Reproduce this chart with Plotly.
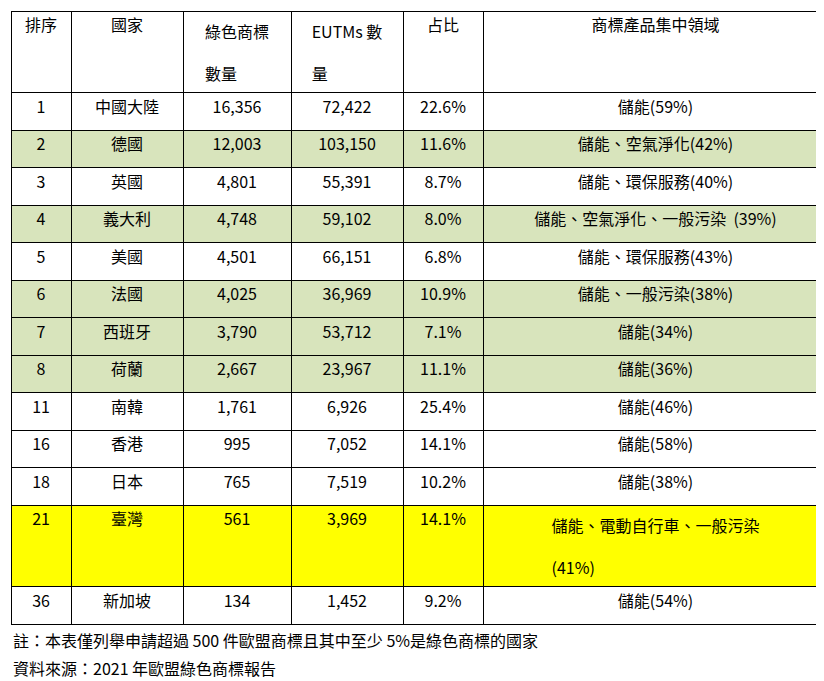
import plotly.graph_objects as go

headers = ["排序", "國家", "綠色商標<br><br>數量", "EUTMs 數<br><br>量", "占比", "商標產品集中領域"]
rank = ["1", "2", "3", "4", "5", "6", "7", "8", "11", "16", "18", "21", "36"]
country = ["中國大陸", "德國", "英國", "義大利", "美國", "法國", "西班牙", "荷蘭",
           "南韓", "香港", "日本", "臺灣", "新加坡"]
green_tm = ["16,356", "12,003", "4,801", "4,748", "4,501", "4,025", "3,790", "2,667",
            "1,761", "995", "765", "561", "134"]
eutms = ["72,422", "103,150", "55,391", "59,102", "66,151", "36,969", "53,712", "23,967",
         "6,926", "7,052", "7,519", "3,969", "1,452"]
share = ["22.6%", "11.6%", "8.7%", "8.0%", "6.8%", "10.9%", "7.1%", "11.1%",
         "25.4%", "14.1%", "10.2%", "14.1%", "9.2%"]
field = ["儲能(59%)", "儲能、空氣淨化(42%)", "儲能、環保服務(40%)",
         "儲能、空氣淨化、一般污染  (39%)", "儲能、環保服務(43%)", "儲能、一般污染(38%)",
         "儲能(34%)", "儲能(36%)", "儲能(46%)", "儲能(58%)", "儲能(38%)",
         "儲能、電動自行車、一般污染<br><br>(41%)", "儲能(54%)"]
highlight = ["none", "green", "none", "green", "none", "green", "green", "green",
             "none", "none", "none", "yellow", "none"]
notes = ["註：本表僅列舉申請超過 500 件歐盟商標且其中至少 5%是綠色商標的國家",
         "資料來源：2021 年歐盟綠色商標報告"]

palette = {"none": "white", "green": "#d8e4bc", "yellow": "#ffff00"}
row_fill = [palette[h] for h in highlight]
FONT = "Noto Sans CJK TC, Noto Sans, sans-serif"

fig = go.Figure(go.Table(
    columnwidth=[60, 112, 108, 112, 80, 345],
    header=dict(values=headers, height=37, fill_color="white",
                line=dict(color="black", width=1), align="center",
                font=dict(family=FONT, size=16, color="black")),
    cells=dict(values=[rank, country, green_tm, eutms, share, field],
               height=37.5, fill_color=[row_fill] * 6,
               line=dict(color="black", width=1), align="center",
               font=dict(family=FONT, size=16, color="black")),
    domain=dict(x=[0, 1], y=[0.09, 1]),
))

for i, txt in enumerate(notes):
    fig.add_annotation(text=txt, xref="paper", yref="paper", x=0, y=0.072 - i * 0.041,
                       xanchor="left", yanchor="middle", showarrow=False,
                       font=dict(family=FONT, size=16, color="black"))

fig.update_layout(width=824, height=681, margin=dict(l=3, r=4, t=3, b=0),
                  paper_bgcolor="white", font=dict(family=FONT))
fig.write_html("out.html")
